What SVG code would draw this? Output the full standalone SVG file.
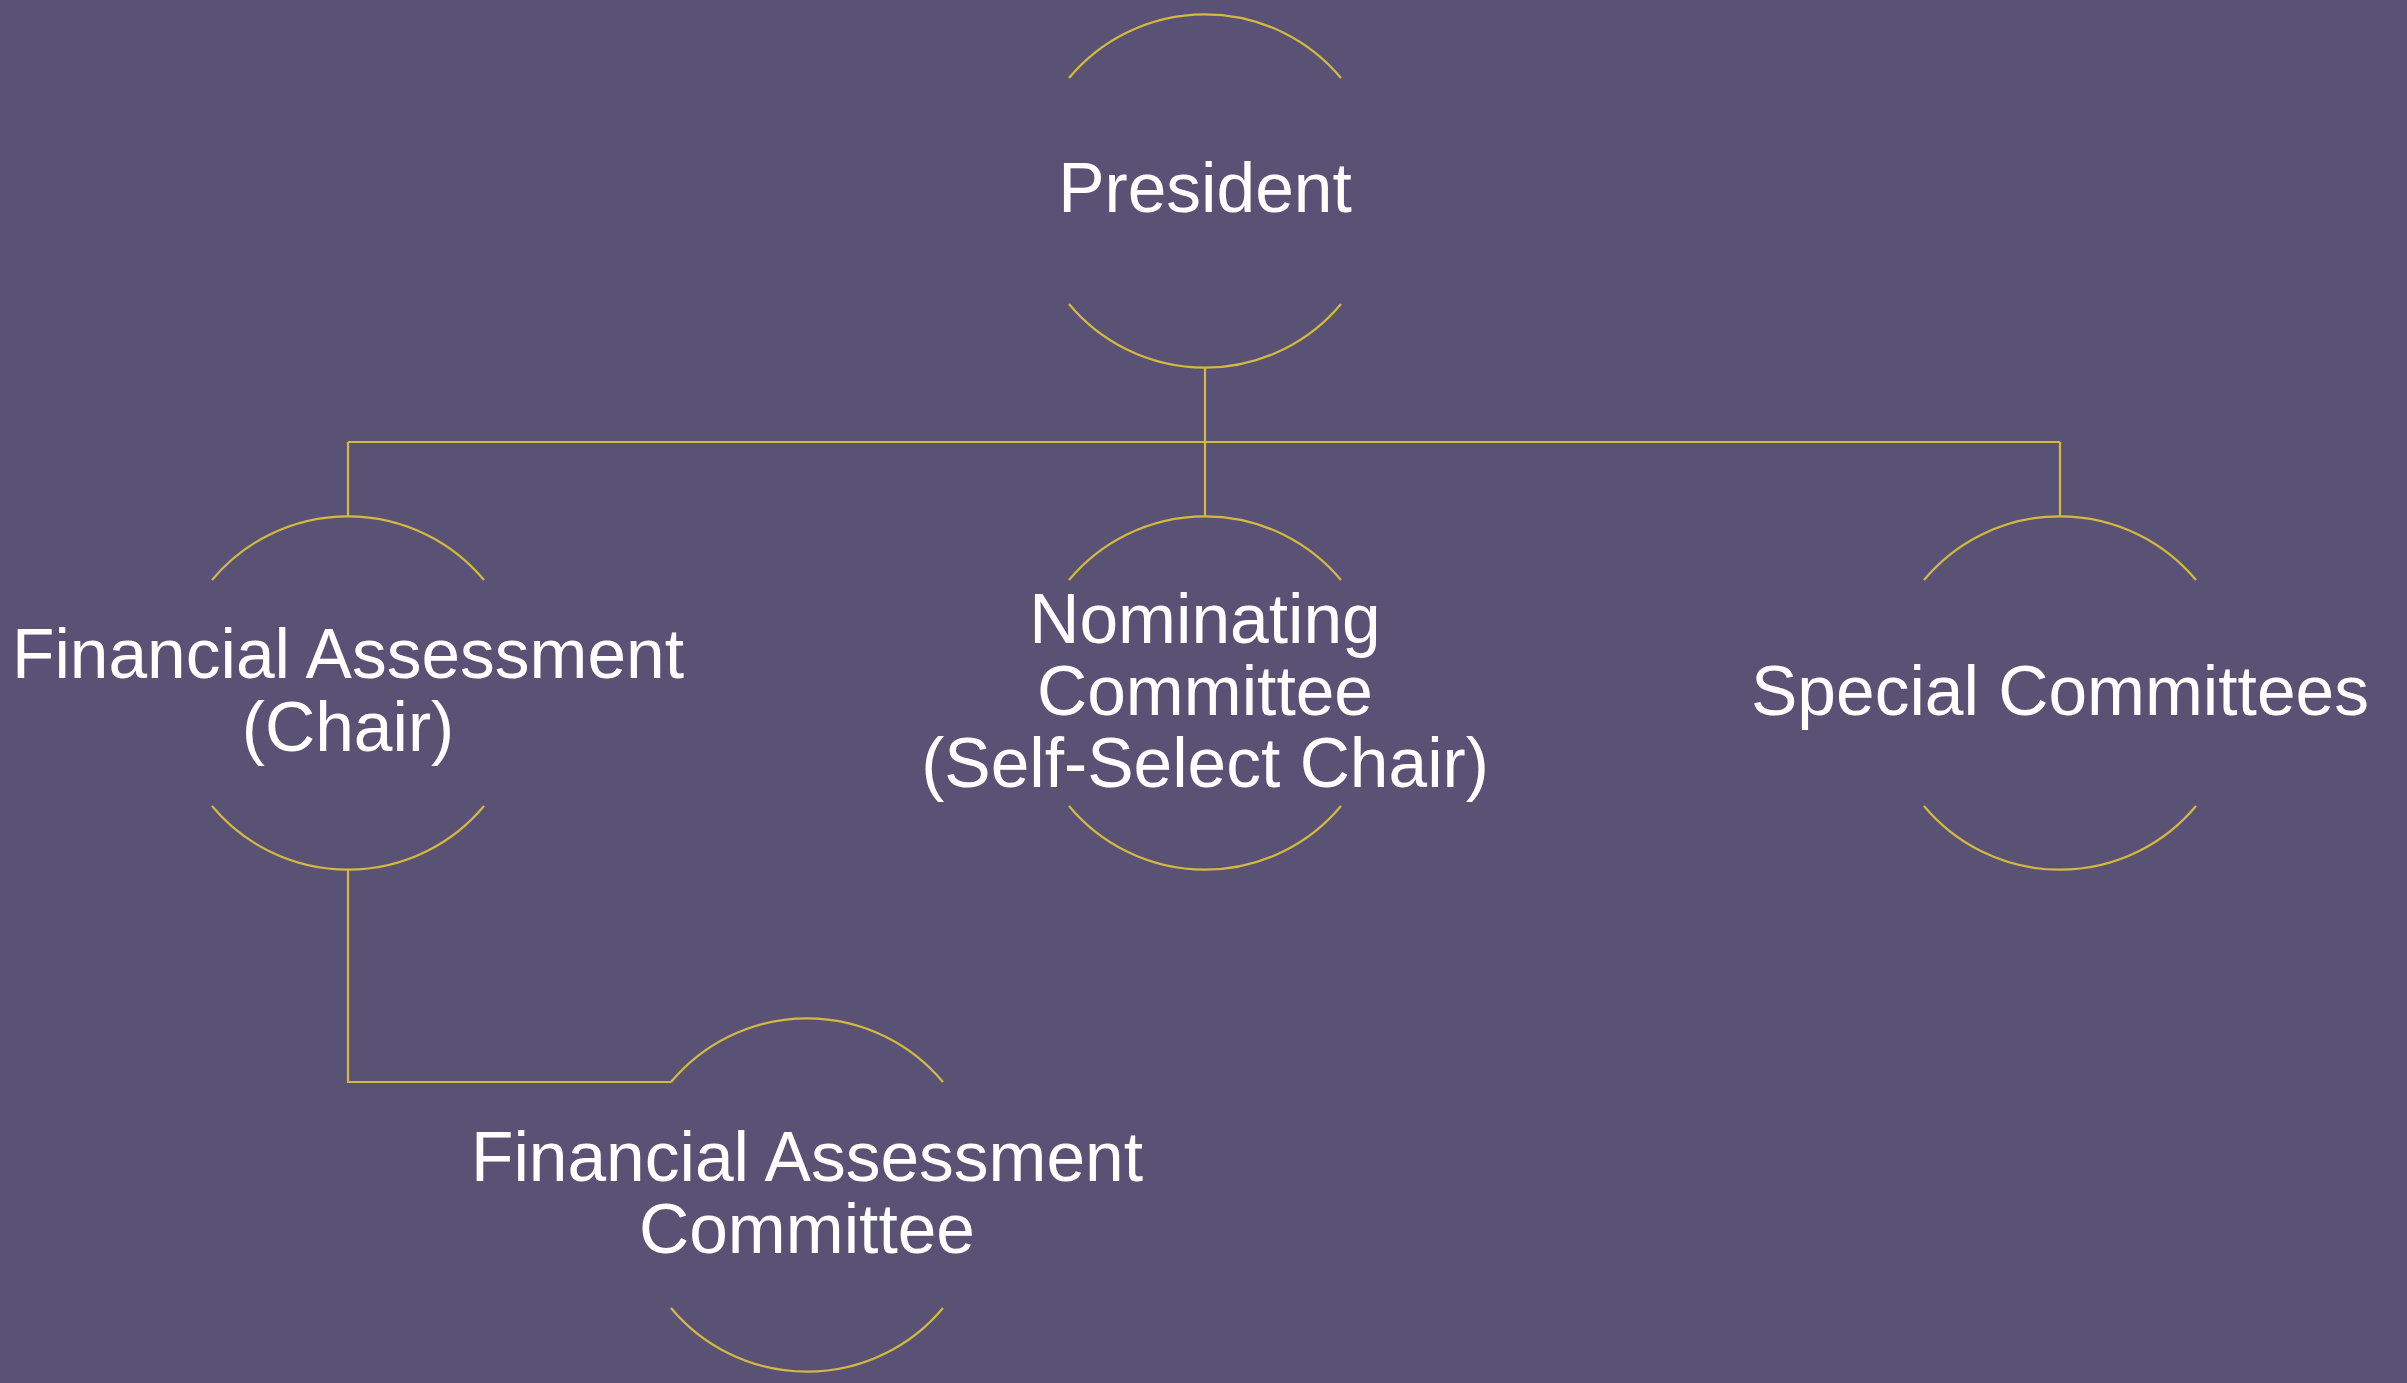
<svg xmlns="http://www.w3.org/2000/svg" width="2407" height="1383" viewBox="0 0 2407 1383">
<style>
.arc{fill:none;stroke:#D4B940;stroke-width:2.2}
.con{fill:none;stroke:#D4B940;stroke-width:2.2}
.t{font-family:"Liberation Sans",Arial,sans-serif;font-size:69.5px;fill:#FFFFFF;text-anchor:middle}
</style>
<rect x="0" y="0" width="2407" height="1383" fill="#5A5275"/>
<g id="connectors">
<path class="con" d="M1205,368 V442 M348,442 H2060 M348,442 V516 M1205,442 V516 M2060,442 V516"/>
<path class="con" d="M348,870 V1082 H671"/>
</g>
<g id="president">
<path class="arc" d="M1069,78 A177,177 0 0 1 1341,78 M1069,304 A177,177 0 0 0 1341,304"/>
<text class="t" x="1205" y="212">President</text>
</g>
<g id="fa-chair">
<path class="arc" d="M212,580 A177,177 0 0 1 484,580 M212,806 A177,177 0 0 0 484,806"/>
<text class="t" x="348" y="678">Financial Assessment</text>
<text class="t" x="348" y="751">(Chair)</text>
</g>
<g id="nominating">
<path class="arc" d="M1069,580 A177,177 0 0 1 1341,580 M1069,806 A177,177 0 0 0 1341,806"/>
<text class="t" x="1205" y="643">Nominating</text>
<text class="t" x="1205" y="715">Committee</text>
<text class="t" x="1205" y="787">(Self-Select Chair)</text>
</g>
<g id="special">
<path class="arc" d="M1924,580 A177,177 0 0 1 2196,580 M1924,806 A177,177 0 0 0 2196,806"/>
<text class="t" x="2060" y="715">Special Committees</text>
</g>
<g id="fa-committee">
<path class="arc" d="M671,1082 A177,177 0 0 1 943,1082 M671,1308 A177,177 0 0 0 943,1308"/>
<text class="t" x="807" y="1181">Financial Assessment</text>
<text class="t" x="807" y="1253">Committee</text>
</g>
</svg>
